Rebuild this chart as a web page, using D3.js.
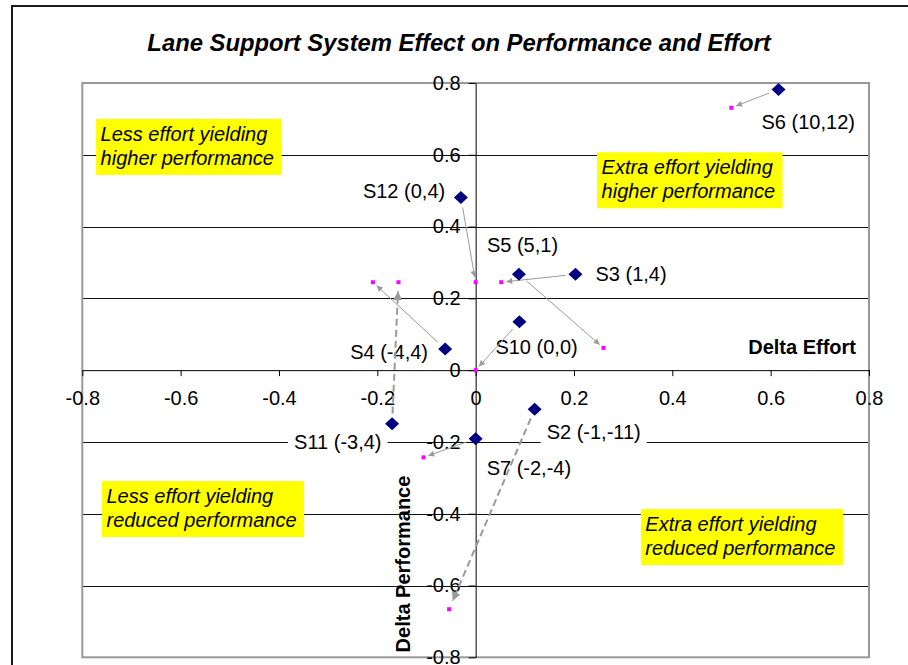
<!DOCTYPE html>
<html><head><meta charset="utf-8">
<script src="https://cdn.jsdelivr.net/npm/d3@7"></script>
<style>
html,body{margin:0;padding:0;background:#fff;}
svg{display:block;}
text{font-family:"Liberation Sans",Arial,Helvetica,sans-serif;}
</style>
</head><body>
<svg id="chart" width="908" height="665"></svg>
<script>
// ---------------- data ----------------
const seriesNames = ["S6","S12","S5","S3","S10","S4","S11","S7","S2"];
const pointLabels = ["S6 (10,12)","S12 (0,4)","S5 (5,1)","S3 (1,4)","S10 (0,0)","S4 (-4,4)","S11 (-3,4)","S7 (-2,-4)","S2 (-1,-11)"];
const deltaEffort      = [0.616,-0.030,0.088,0.203,0.089,-0.062,-0.170,0.000,0.120];
const deltaPerformance = [0.782, 0.481,0.267,0.267,0.135, 0.059,-0.149,-0.191,-0.109];
const targetEffort      = [0.520,0.000,0.260,0.052,0.000,-0.209,-0.157,-0.106,-0.054];
const targetPerformance = [0.731,0.245,0.062,0.245,0.000, 0.245, 0.245,-0.243,-0.666];
const arrowDashed = [false,false,false,false,false,false,true,false,true];
const xTickValues = [-0.8,-0.6,-0.4,-0.2,0,0.2,0.4,0.6,0.8];
const xTickLabels = ["-0.8","-0.6","-0.4","-0.2","0","0.2","0.4","0.6","0.8"];
const yTickValues = [-0.8,-0.6,-0.4,-0.2,0,0.2,0.4,0.6,0.8];
const yTickLabels = ["-0.8","-0.6","-0.4","-0.2","0","0.2","0.4","0.6","0.8"];
const gridValues = [-0.6,-0.4,-0.2,0.2,0.4,0.6];
const quadrantText = [
  ["Less effort yielding","higher performance"],
  ["Extra effort yielding","higher performance"],
  ["Less effort yielding","reduced performance"],
  ["Extra effort yielding","reduced performance"]
];
const quadrantEffort = [-0.772,0.247,-0.760,0.336];
const quadrantPerformance = [0.700,0.607,-0.309,-0.387];
const titleText = "Lane Support System Effect on Performance and Effort";
const xAxisTitle = "Delta Effort";
const yAxisTitle = "Delta Performance";

// ---------------- layout ----------------
const labelOffset = {S6:[-17,32],S12:[-98,-7],S5:[-32,-30],S3:[20,-1],S10:[-24,25],S4:[-95,3],S11:[-98,18],S7:[11,29],S2:[12,23]};
const FONT = 20;

const svg = d3.select("#chart");
const x = d3.scaleLinear().domain([-0.8,0.8]).range([82.3,869]);
const y = d3.scaleLinear().domain([-0.8,0.8]).range([657.3,83]);

// outer frame
svg.append("rect").attr("x",12).attr("y",6).attr("width",940).attr("height",700)
  .attr("fill","#fff").attr("stroke","#1a1a1a").attr("stroke-width",2);

// title
svg.append("text").attr("x",459).attr("y",51).attr("text-anchor","middle")
  .attr("font-size",23.8).attr("font-weight","bold").attr("font-style","italic").text(titleText);

// gridlines
svg.append("g").selectAll("line").data(gridValues).join("line")
  .attr("x1",x(-0.8)).attr("x2",x(0.8))
  .attr("y1",d=>Math.round(y(d))+0.5).attr("y2",d=>Math.round(y(d))+0.5)
  .attr("stroke","#111").attr("stroke-width",1);

// plot border
svg.append("rect").attr("x",x(-0.8)).attr("y",y(0.8)).attr("width",x(0.8)-x(-0.8)).attr("height",y(-0.8)-y(0.8))
  .attr("fill","none").attr("stroke","#999").attr("stroke-width",2);

// axes
const yAxis = svg.append("g").attr("transform",`translate(${x(0)},0)`)
  .call(d3.axisLeft(y).tickValues(yTickValues).tickFormat((d,i)=>yTickLabels[i]).tickSize(7).tickSizeOuter(0).tickPadding(8));
const xAxis = svg.append("g").attr("transform",`translate(0,${y(0)})`)
  .call(d3.axisBottom(x).tickValues(xTickValues).tickFormat((d,i)=>xTickLabels[i]).tickSize(6).tickSizeOuter(0).tickPadding(15));
[xAxis,yAxis].forEach(a=>{
  a.selectAll("text").attr("font-size",FONT).attr("fill","#000").attr("font-family",null);
  a.selectAll("line,path").attr("stroke","#000");
  a.attr("font-family",null);
});

// axis titles
svg.append("text").attr("x",856).attr("y",354).attr("text-anchor","end")
  .attr("font-size",FONT).attr("font-weight","bold").text(xAxisTitle);
svg.append("text").attr("transform",`translate(410,${564}) rotate(-90)`).attr("text-anchor","middle")
  .attr("font-size",FONT).attr("font-weight","bold").text(yAxisTitle);

// quadrant boxes
quadrantText.forEach((lines,i)=>{
  const g = svg.append("g").attr("transform",`translate(${x(quadrantEffort[i])},${y(quadrantPerformance[i])})`);
  const rect = g.append("rect").attr("fill","#ffff00");
  let w = 0;
  lines.forEach((t,j)=>{
    const tx = g.append("text").attr("x",4.5).attr("y",22+j*24).attr("font-size",FONT).attr("font-style","italic").text(t);
    w = Math.max(w, tx.node().getComputedTextLength());
  });
  rect.attr("width",w+12).attr("height",56);
});

// point labels with white background
seriesNames.forEach((s,i)=>{
  const [dx,dy] = labelOffset[s];
  const g = svg.append("g").attr("transform",`translate(${x(deltaEffort[i])+dx},${y(deltaPerformance[i])+dy})`);
  const bg = g.append("rect").attr("fill","#fff");
  const t = g.append("text").attr("x",0).attr("y",0).attr("dy","0.36em").attr("font-size",FONT).text(pointLabels[i]);
  const w = t.node().getComputedTextLength();
  bg.attr("x",-6).attr("y",-11).attr("width",w+12).attr("height",22);
});

// arrow markers
const defs = svg.append("defs");
defs.append("marker").attr("id","ahs").attr("markerUnits","userSpaceOnUse")
  .attr("viewBox","0 0 10 10").attr("refX",10).attr("refY",5).attr("markerWidth",7).attr("markerHeight",6).attr("orient","auto")
  .append("path").attr("d","M0,0L10,5L0,10z").attr("fill","#9a9a9a");
defs.append("marker").attr("id","ahd").attr("markerUnits","userSpaceOnUse")
  .attr("viewBox","0 0 10 10").attr("refX",10).attr("refY",5).attr("markerWidth",9).attr("markerHeight",9).attr("orient","auto")
  .append("path").attr("d","M0,0L10,5L0,10z").attr("fill","#9a9a9a");

// arrows
seriesNames.forEach((s,i)=>{
  const x1 = x(deltaEffort[i]), y1 = y(deltaPerformance[i]);
  const x2 = x(targetEffort[i]), y2 = y(targetPerformance[i]);
  const L = Math.hypot(x2-x1,y2-y1), ux = (x2-x1)/L, uy = (y2-y1)/L;
  const s0 = 10, s1 = arrowDashed[i] ? 9 : 5;
  svg.append("line")
    .attr("x1",x1+ux*s0).attr("y1",y1+uy*s0).attr("x2",x2-ux*s1).attr("y2",y2-uy*s1)
    .attr("stroke","#9a9a9a")
    .attr("stroke-width",arrowDashed[i] ? 2 : 1)
    .attr("stroke-dasharray",arrowDashed[i] ? "7,4" : null)
    .attr("marker-end",arrowDashed[i] ? "url(#ahd)" : "url(#ahs)");
});

// target markers (magenta squares)
svg.append("g").selectAll("rect").data(seriesNames).join("rect")
  .attr("x",(d,i)=>x(targetEffort[i])-2).attr("y",(d,i)=>y(targetPerformance[i])-2)
  .attr("width",4).attr("height",4).attr("fill","#ff00ff");

// diamonds
svg.append("g").selectAll("path").data(seriesNames).join("path")
  .attr("transform",(d,i)=>`translate(${x(deltaEffort[i])},${y(deltaPerformance[i])})`)
  .attr("d","M0,-6.5L7,0L0,6.5L-7,0Z").attr("fill","#000080");
</script>
</body></html>
